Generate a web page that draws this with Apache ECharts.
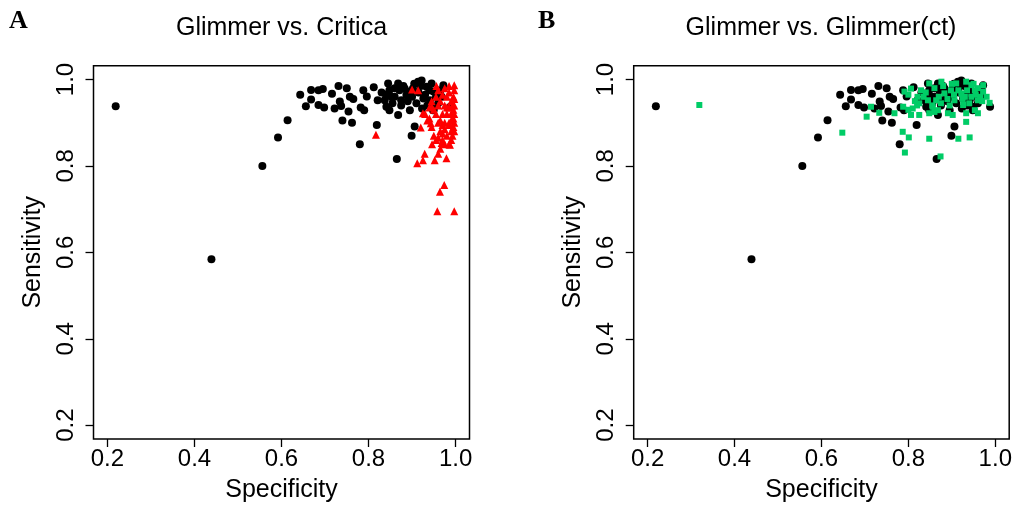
<!DOCTYPE html>
<html>
<head>
<meta charset="utf-8">
<script src="https://cdn.jsdelivr.net/npm/echarts@6/dist/echarts.min.js"></script>
<style>html,body{margin:0;padding:0;background:#fff;}#c{width:1015px;height:508px;}</style>
</head>
<body>
<div id="c"></div>
<script>
// Tick labels
const tickValues = [0.2, 0.4, 0.6, 0.8, 1.0];
const panelTitles = ['Glimmer vs. Critica', 'Glimmer vs. Glimmer(ct)'];
const panelLetters = ['A', 'B'];
const xName = 'Specificity';
const yName = 'Sensitivity';

// Glimmer (black circles) [specificity, sensitivity] - same in both panels
const glimmer = [
  [0.219,0.938],[0.439,0.584],[0.556,0.800],[0.592,0.866],[0.614,0.906],[0.643,0.965],
  [0.656,0.938],[0.668,0.976],[0.668,0.954],[0.685,0.975],[0.695,0.978],[0.685,0.941],
  [0.698,0.935],[0.716,0.967],[0.722,0.933],[0.731,0.985],[0.734,0.949],[0.737,0.939],
  [0.740,0.905],[0.750,0.980],[0.754,0.926],[0.757,0.960],[0.765,0.955],[0.762,0.900],
  [0.780,0.850],[0.782,0.935],[0.790,0.929],[0.788,0.975],[0.796,0.961],[0.812,0.982],
  [0.819,0.895],[0.821,0.952],[0.837,0.952],[0.841,0.937],[0.845,0.991],[0.848,0.975],
  [0.852,0.960],[0.848,0.929],[0.865,0.816],[0.868,0.991],[0.871,0.975],[0.868,0.918],
  [0.875,0.952],[0.887,0.964],[0.895,0.929],[0.899,0.870],[0.906,0.891],[0.902,0.979],
  [0.914,0.995],[0.922,0.998],[0.926,0.956],[0.923,0.933],[0.933,0.983],[0.941,0.952],
  [0.945,0.991],[0.949,0.972],[0.949,0.937],[0.972,0.987],[0.968,0.960],[0.895,0.972],
  [0.883,0.979],[0.988,0.937],[0.948,0.929],
  [0.840,0.965],[0.855,0.945],[0.860,0.980],[0.875,0.940],[0.880,0.985],[0.890,0.950],
  [0.900,0.960],[0.910,0.945],[0.915,0.970],[0.930,0.965],[0.935,0.940],[0.940,0.975],
  [0.955,0.960],[0.960,0.945],[0.965,0.975],[0.920,0.985],[0.905,0.990],[0.860,0.960],
  [0.830,0.970],[0.950,0.930]
];

// Critica (red triangles)
const critica = [
  [0.817,0.872],[0.900,0.977],[0.914,0.975],[0.956,0.985],[0.997,0.987],[0.958,0.695],
  [0.997,0.695],[0.964,0.740],[0.974,0.756],[0.912,0.806],[0.925,0.813],[0.929,0.828],
  [0.952,0.813],[0.960,0.828],[0.979,0.818],[0.946,0.850],[0.920,0.889],[0.943,0.899],
  [0.968,0.853],[0.987,0.849],[0.925,0.922],[0.945,0.937],
  [0.955,0.920],[0.960,0.900],[0.965,0.880],[0.970,0.860],[0.975,0.940],[0.980,0.920],
  [0.985,0.900],[0.990,0.880],[0.995,0.960],[0.995,0.930],[0.995,0.910],[0.995,0.890],
  [0.990,0.950],[0.985,0.970],[0.980,0.960],[0.975,0.900],[0.970,0.920],[0.965,0.950],
  [0.960,0.940],[0.950,0.930],[0.940,0.910],[0.945,0.890],[0.950,0.870],[0.955,0.860],
  [0.960,0.865],[0.970,0.875],[0.980,0.870],[0.990,0.860],[0.985,0.850],[0.975,0.850],
  [0.965,0.840],[0.990,0.920],[0.993,0.940],[0.997,0.975],[0.997,0.955],[0.997,0.940],
  [0.997,0.920],[0.997,0.900],[0.997,0.880],[0.993,0.870],[0.980,0.935],[0.970,0.965],
  [0.960,0.975],[0.975,0.980],[0.985,0.985],[0.930,0.920],[0.935,0.905],[0.940,0.935],
  [0.945,0.950],[0.955,0.960],[0.965,0.905],[0.975,0.885],[0.985,0.895],[0.990,0.905],
  [0.985,0.935],[0.970,0.895]
];

// Glimmer(ct) (green squares)
const glimmerCt = [
  [0.319,0.941],[0.648,0.877],[0.704,0.914],[0.714,0.937],[0.733,0.923],[0.768,0.922],
  [0.787,0.879],[0.801,0.866],[0.792,0.831],[0.848,0.863],[0.874,0.822],[0.915,0.863],
  [0.941,0.866],[0.933,0.902],[0.788,0.937],[0.806,0.918],[0.825,0.918],[0.848,0.922],
  [0.891,0.922],[0.902,0.918],[0.933,0.922],[0.960,0.922],[0.953,0.929],[0.987,0.946],
  [0.972,0.987],[0.972,0.972],[0.791,0.972],[0.806,0.979],[0.821,0.960],[0.829,0.975],
  [0.848,0.991],[0.876,0.995],[0.910,0.991],[0.933,0.995],[0.945,0.987],[0.898,0.975],
  [0.906,0.952],[0.922,0.968],[0.864,0.952],[0.845,0.952],[0.825,0.945],[0.810,0.933],
  [0.868,0.929],[0.856,0.937],[0.883,0.968],[0.945,0.960],[0.960,0.952],[0.953,0.975],
  [0.926,0.941],
  [0.840,0.970],[0.860,0.980],[0.870,0.960],[0.880,0.985],[0.890,0.955],[0.900,0.990],
  [0.915,0.975],[0.925,0.955],[0.935,0.975],[0.940,0.945],[0.955,0.965],[0.965,0.960],
  [0.970,0.950],[0.800,0.965],[0.815,0.950],[0.835,0.960],[0.855,0.940],[0.875,0.945],
  [0.895,0.940],[0.905,0.965],[0.930,0.960],[0.950,0.990],[0.960,0.980],[0.980,0.960],
  [0.860,0.925],[0.820,0.940],[0.800,0.930]
];

const FONT = '"Liberation Sans", Arial, Helvetica, sans-serif';
const SERIF = '"Liberation Serif", "Times New Roman", serif';
const chart = echarts.init(document.getElementById('c'), null, {renderer: 'canvas'});

const grids = [
  {left: 93.5, top: 65.7, width: 376, height: 374.3},
  {left: 633.7, top: 65.7, width: 375.5, height: 374.3}
];

function xAxis(i) {
  return {
    type: 'value', gridIndex: i, min: 0.168, max: 1.032,
    splitLine: {show: false},
    axisLine: {show: false},
    axisTick: {show: true, customValues: tickValues, length: 8, lineStyle: {color: '#000', width: 1.3}},
    axisLabel: {show: true, customValues: tickValues, margin: 8, color: '#000', fontSize: 24, fontFamily: FONT,
      formatter: v => v.toFixed(1)},
    name: xName, nameLocation: 'middle', nameGap: 39,
    nameTextStyle: {color: '#000', fontSize: 25, fontFamily: FONT}
  };
}
function yAxis(i) {
  return {
    type: 'value', gridIndex: i, min: 0.168, max: 1.032,
    splitLine: {show: false},
    axisLine: {show: false},
    axisTick: {show: true, customValues: tickValues, length: 8, lineStyle: {color: '#000', width: 1.3}},
    axisLabel: {show: true, customValues: tickValues, margin: 15, rotate: 90, color: '#000', fontSize: 24, fontFamily: FONT,
      formatter: v => v.toFixed(1)},
    name: yName, nameLocation: 'middle', nameGap: 48, nameRotate: 90,
    nameTextStyle: {color: '#000', fontSize: 25, fontFamily: FONT}
  };
}

chart.setOption({
  animation: false,
  backgroundColor: '#fff',
  title: [
    {text: panelTitles[0], left: 281.5, textAlign: 'center', top: 16, padding: 0,
      textStyle: {fontSize: 25, fontWeight: 'normal', color: '#000', fontFamily: FONT}},
    {text: panelTitles[1], left: 821, textAlign: 'center', top: 16, padding: 0,
      textStyle: {fontSize: 25, fontWeight: 'normal', color: '#000', fontFamily: FONT}},
    {text: panelLetters[0], left: 9, top: 8, padding: 0,
      textStyle: {fontSize: 26, fontWeight: 'bold', color: '#000', fontFamily: SERIF}},
    {text: panelLetters[1], left: 538, top: 8, padding: 0,
      textStyle: {fontSize: 26, fontWeight: 'bold', color: '#000', fontFamily: SERIF}}
  ],
  grid: grids.map(g => Object.assign({show: true, borderColor: '#000', borderWidth: 1.5, backgroundColor: 'transparent'}, g)),
  xAxis: [xAxis(0), xAxis(1)],
  yAxis: [yAxis(0), yAxis(1)],
  series: [
    {type: 'scatter', name: 'Glimmer', xAxisIndex: 0, yAxisIndex: 0, data: glimmer,
      symbol: 'circle', symbolSize: 8, itemStyle: {color: '#000', opacity: 1}},
    {type: 'scatter', name: 'Critica', xAxisIndex: 0, yAxisIndex: 0, data: critica,
      symbol: 'triangle', symbolSize: 8, itemStyle: {color: '#ff0000', opacity: 1}},
    {type: 'scatter', name: 'Glimmer', xAxisIndex: 1, yAxisIndex: 1, data: glimmer,
      symbol: 'circle', symbolSize: 8, itemStyle: {color: '#000', opacity: 1}},
    {type: 'scatter', name: 'Glimmer(ct)', xAxisIndex: 1, yAxisIndex: 1, data: glimmerCt,
      symbol: 'rect', symbolSize: 6, itemStyle: {color: '#00cc66', opacity: 1}}
  ]
});
</script>
</body>
</html>
